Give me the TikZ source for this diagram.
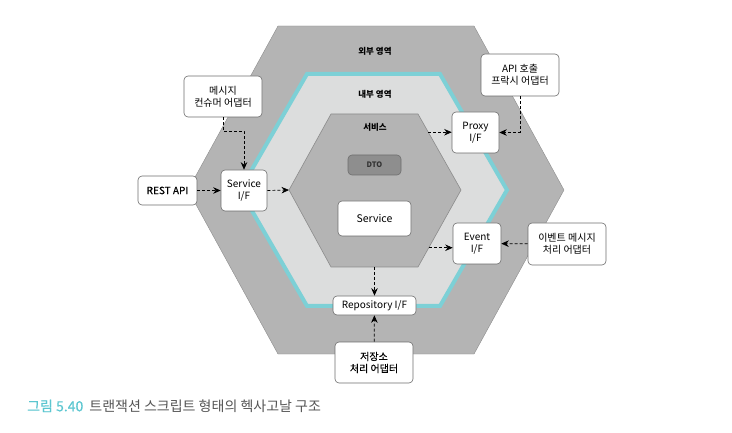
\documentclass[tikz,border=0pt]{standalone}
\usepackage{fontspec}
\setmainfont{Noto Sans CJK KR}
\newfontfamily\medfont[FakeBold=0.5]{Noto Sans CJK KR}
\usetikzlibrary{arrows.meta, calc, positioning}
\definecolor{hexgray}{HTML}{B4B4B4}
\definecolor{hexlight}{HTML}{DCDDDD}
\definecolor{hexcyan}{HTML}{7DD0D6}
\definecolor{edgegray}{HTML}{8C8C8C}
\definecolor{boxline}{HTML}{6E6E6E}
\definecolor{dtogray}{HTML}{8E8E8E}
\definecolor{capcyan}{HTML}{5CC6D0}
\definecolor{captext}{HTML}{555555}

\begin{document}
\begin{tikzpicture}[x=1pt, y=-1pt,
  box/.style={draw=boxline, fill=white, rounded corners=4pt, line width=0.6pt, align=center, inner sep=0pt, font=\fontsize{10}{12}\selectfont},
  dtobox/.style={draw=boxline, fill=dtogray, rounded corners=4pt, line width=0.6pt, inner sep=0pt, text=black!80, font=\bfseries\fontsize{7.5}{9}\selectfont},
  flow/.style={densely dashed, line width=0.7pt, -{Stealth[length=7.5pt, width=6.5pt]}},
  area/.style={inner sep=1pt, font=\bfseries\fontsize{8.5}{10}\selectfont}]
\useasboundingbox (0,0) rectangle (732,433);

% Outer hexagon (external area)
\fill[hexgray, draw=edgegray, line width=0.4pt] (278,26) -- (474,26) -- (564,190) -- (474,354) -- (278,354) -- (188,190) -- cycle;

% Inner hexagon (internal area) with cyan border
\filldraw[fill=hexlight, draw=hexcyan, line width=4pt] (307,74) -- (440,74) -- (507,190) -- (440,306) -- (307,306) -- (240,190) -- cycle;

% Service hexagon
\coordinate (s1) at (331,114);
\coordinate (s2) at (418,114);
\coordinate (s3) at (461,190);
\coordinate (s4) at (418,267);
\coordinate (s5) at (331,267);
\coordinate (s6) at (289,190);
\filldraw[fill=hexgray, draw=edgegray, line width=0.6pt] (s1) -- (s2) -- (s3) -- (s4) -- (s5) -- (s6) -- cycle;

% Points on the service hexagon where arrows leave
\coordinate (proxyout) at ($(s2)!0.24!(s3)$);
\coordinate (eventout) at ($(s3)!0.75!(s4)$);
\coordinate (repoout) at ($(s4)!0.5!(s5)$);

% Area labels
\node[area] (outerlbl) at (375,51) {외부 영역};
\node[area] (innerlbl) at (375,94) {내부 영역};
\node[area] (svclbl) at (375,127) {서비스};

% Service core
\node[dtobox, minimum width=53pt, minimum height=20pt] (dto) at (374.5,165) {DTO};
\node[box, minimum width=73pt, minimum height=35pt, font=\fontsize{10.5}{12}\selectfont] (service) at (374.5,218.5) {Service};

% Ports
\node[box, minimum width=46pt, minimum height=41pt] (serviceif) at (244,190.5) {Service\\I/F};
\node[box, minimum width=47pt, minimum height=41pt] (proxyif) at (475.5,132.5) {Proxy\\I/F};
\node[box, minimum width=48pt, minimum height=41pt] (eventif) at (477,243.5) {Event\\I/F};
\node[box, minimum width=83pt, minimum height=19pt] (repoif) at (374.5,305.5) {Repository I/F};

% Adapters
\node[box, minimum width=59pt, minimum height=29pt, font=\medfont\fontsize{10}{12}\selectfont] (restapi) at (167.5,190.5) {REST API};
\node[box, minimum width=78pt, minimum height=41pt] (msgad) at (223,96.5) {메시지\\컨슈머 어댑터};
\node[box, minimum width=78pt, minimum height=42pt] (apiad) at (520,75) {API 호출\\프락시 어댑터};
\node[box, minimum width=78pt, minimum height=42pt] (eventad) at (567,244) {이벤트 메시지\\처리 어댑터};
\node[box, minimum width=78pt, minimum height=41pt, font=\medfont\fontsize{10}{12}\selectfont] (storead) at (374,362.5) {저장소\\처리 어댑터};

% Dependencies
\draw[flow] (restapi) -- (serviceif);
\draw[flow] (serviceif.east) -- (s6);
\draw[flow] (msgad.south) -- ++(0,14) -| (serviceif.north);
\draw[flow] (proxyout) -- (proxyout -| proxyif.west);
\draw[flow] (apiad.south) |- (proxyif.east);
\draw[flow] (eventout) -- (eventout -| eventif.west);
\draw[flow] (eventad) -- (eventif);
\draw[flow] (repoout) -- (repoif.north);
\draw[flow] (storead) -- (repoif);

% Caption
\node[anchor=west, inner sep=0pt, font=\fontsize{14}{16}\selectfont] (caption) at (27,406) {\textcolor{capcyan}{\medfont 그림 5.40}\hspace{3pt} \textcolor{captext}{트랜잭션 스크립트 형태의 헥사고날 구조}};
\end{tikzpicture}
\end{document}
